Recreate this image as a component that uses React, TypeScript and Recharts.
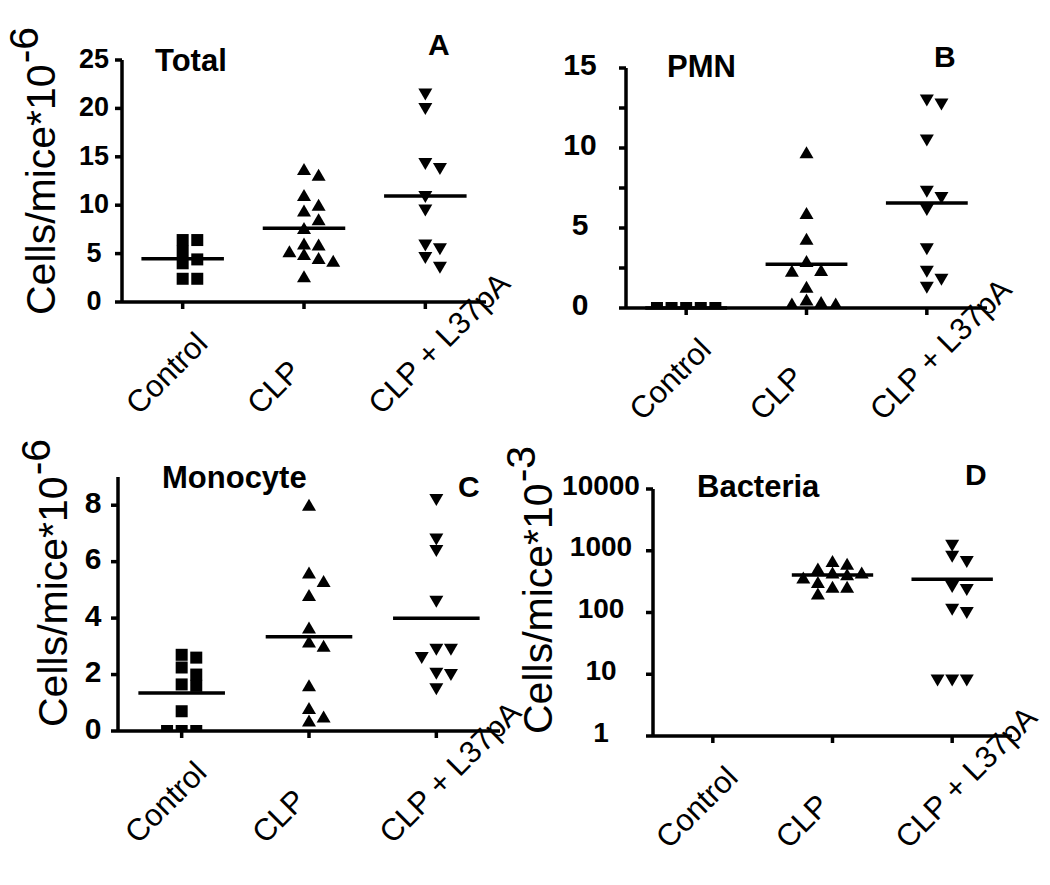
import { ScatterChart, Scatter, XAxis, YAxis, ReferenceLine } from "recharts";

const groups = ["Control", "CLP", "CLP + L37pA"];

// A: total cells (x10^6 per mouse)
const totalControl = [6.4, 6.4, 5.2, 4.4, 4.0, 2.4, 2.4];
const totalClp = [13.7, 13.1, 11.0, 10.0, 9.4, 8.5, 7.6, 6.0, 5.9, 5.2, 4.9, 4.5, 4.2, 2.6];
const totalL37 = [21.5, 20.0, 14.3, 13.8, 10.9, 9.5, 5.9, 5.5, 4.6, 3.6];

// B: PMN
const pmnControl = [0, 0, 0, 0, 0];
const pmnClp = [9.7, 5.9, 4.3, 2.9, 2.35, 2.3, 1.3, 0.5, 0.35, 0.25, 0.25];
const pmnL37 = [13.0, 12.75, 10.5, 7.3, 6.9, 6.15, 3.7, 2.3, 1.8, 1.3];

// C: monocytes
const monoControl = [2.7, 2.6, 2.25, 2.0, 1.65, 1.6, 0.7, 0, 0, 0];
const monoClp = [8.0, 5.6, 5.3, 4.8, 3.65, 3.15, 3.0, 1.6, 0.8, 0.5, 0.35];
const monoL37 = [8.2, 6.8, 6.4, 4.6, 2.9, 2.9, 2.6, 2.05, 2.0, 1.5];

// D: bacteria (x10^3, log axis)
const bactControl: number[] = [];
const bactClp = [670, 607, 504, 436, 436, 407, 362, 307, 256, 256, 199];
const bactL37 = [1230, 811, 670, 264, 235, 113, 100, 8.1, 8.1, 8.1];

const linearTicksA = [0, 5, 10, 15, 20, 25];
const linearTicksB = [0, 2.5, 5, 7.5, 10, 12.5, 15];
const labelTicksB = [0, 5, 10, 15];
const linearTicksC = [0, 2, 4, 6, 8];
const logTicksD = [1, 10, 100, 1000, 10000];

const FONT = "'Liberation Sans', Arial, Helvetica, sans-serif";
const W = 1050;
const H = 885;
const SLOT_PX = 14.6;
const MIN_GAP_PX = 10.5;

type Panel = {
  key: string;
  title: string;
  letter: string;
  values: number[][];
  domain: [number, number];
  ticks: number[];
  labelled: number[];
  log?: boolean;
  plot: { l: number; r: number; t: number; b: number };
  tickFont: number;
  tickX: number;
  tickDy: number;
  titlePos: [number, number];
  letterPos: [number, number];
  yLabel?: { x: number; y: number; exp: string };
};

const panels: Panel[] = [
  {
    key: "A",
    title: "Total",
    letter: "A",
    values: [totalControl, totalClp, totalL37],
    domain: [0, 25],
    ticks: linearTicksA,
    labelled: linearTicksA,
    plot: { l: 122, r: 486, t: 60, b: 302 },
    tickFont: 27,
    tickX: 94,
    tickDy: -1,
    titlePos: [155, 71],
    letterPos: [428, 55],
    yLabel: { x: 55, y: 315, exp: "-6" },
  },
  {
    key: "B",
    title: "PMN",
    letter: "B",
    values: [pmnControl, pmnClp, pmnL37],
    domain: [0, 15],
    ticks: linearTicksB,
    labelled: labelTicksB,
    plot: { l: 626, r: 987, t: 68, b: 308 },
    tickFont: 30,
    tickX: 580,
    tickDy: -4,
    titlePos: [667, 77],
    letterPos: [934, 67],
  },
  {
    key: "C",
    title: "Monocyte",
    letter: "C",
    values: [monoControl, monoClp, monoL37],
    domain: [0, 9],
    ticks: linearTicksC,
    labelled: linearTicksC,
    plot: { l: 118, r: 500, t: 477, b: 731 },
    tickFont: 30,
    tickX: 93,
    tickDy: -3,
    titlePos: [162, 488],
    letterPos: [458, 497],
    yLabel: { x: 67, y: 727, exp: "-6" },
  },
  {
    key: "D",
    title: "Bacteria",
    letter: "D",
    values: [bactControl, bactClp, bactL37],
    domain: [1, 10000],
    ticks: logTicksD,
    labelled: logTicksD,
    log: true,
    plot: { l: 653, r: 1012, t: 489, b: 736 },
    tickFont: 28,
    tickX: 601,
    tickDy: -4,
    titlePos: [697, 497],
    letterPos: [965, 485],
    yLabel: { x: 552, y: 734, exp: "-3" },
  },
];

function yPx(p: Panel, v: number) {
  const h = p.plot.b - p.plot.t;
  if (p.log) {
    const a = Math.log10(p.domain[0]);
    const b = Math.log10(p.domain[1]);
    return ((Math.log10(v) - a) / (b - a)) * h;
  }
  return ((v - p.domain[0]) / (p.domain[1] - p.domain[0])) * h;
}

// simple column dodge, like the prism scatter: fill centre slot first, then spread sideways
function dodge(p: Panel, values: number[], gi: number) {
  const slots = [0, 1, -1, 2, -2, 3, -3];
  const unitPx = (p.plot.r - p.plot.l) / 3;
  const placed: { s: number; py: number }[] = [];
  return [...values]
    .sort((a, b) => b - a)
    .map((v) => {
      const py = yPx(p, v);
      const s =
        slots.find((c) => placed.every((q) => q.s !== c || Math.abs(q.py - py) >= MIN_GAP_PX)) ?? 0;
      placed.push({ s, py });
      return { x: gi + 1 + (s * SLOT_PX) / unitPx, y: v };
    });
}

const mean = (arr: number[]) => arr.reduce((s, v) => s + v, 0) / arr.length;

const Square = (props: any) => (
  <rect x={props.cx - 6} y={props.cy - 6} width={12} height={12} fill="#000" />
);
const TriUp = (props: any) => (
  <path
    d={`M${props.cx},${props.cy - 6.5} L${props.cx + 7},${props.cy + 5.5} L${props.cx - 7},${props.cy + 5.5} Z`}
    fill="#000"
  />
);
const TriDown = (props: any) => (
  <path
    d={`M${props.cx - 7},${props.cy - 5.5} L${props.cx + 7},${props.cy - 5.5} L${props.cx},${props.cy + 6.5} Z`}
    fill="#000"
  />
);
const shapes = [Square, TriUp, TriDown];

function YTick(props: any) {
  const { y, payload, panel } = props;
  if (!panel.labelled.includes(payload.value)) return <g />;
  return (
    <text
      x={panel.tickX}
      y={y + panel.tickDy}
      textAnchor="middle"
      dominantBaseline="central"
      fontFamily={FONT}
      fontWeight="bold"
      fontSize={panel.tickFont}
      fill="#000"
    >
      {payload.value}
    </text>
  );
}

function XTick(props: any) {
  const { x, payload, panel } = props;
  const px = x - 44;
  const py = panel.plot.b + 114;
  return (
    <text
      transform={`translate(${px},${py}) rotate(-45)`}
      textAnchor="start"
      fontFamily={FONT}
      fontSize={31}
      fill="#000"
    >
      {groups[payload.value - 1]}
    </text>
  );
}

function PanelChart({ panel }: { panel: Panel }) {
  const yAxisW = 40;
  const xAxisH = 40;
  const margin = {
    left: panel.plot.l - yAxisW,
    right: W - panel.plot.r,
    top: panel.plot.t,
    bottom: H - panel.plot.b - xAxisH,
  };
  const axisStyle = { stroke: "#000", strokeWidth: 3.5 };
  return (
    <div style={{ position: "absolute", left: 0, top: 0 }}>
      <ScatterChart width={W} height={H} margin={margin}>
        <XAxis
          type="number"
          dataKey="x"
          domain={[0.5, 3.5]}
          ticks={[1, 2, 3]}
          allowDataOverflow
          height={xAxisH}
          axisLine={axisStyle}
          tickLine={axisStyle}
          tickSize={7}
          interval={0}
          tick={(p: any) => <XTick {...p} panel={panel} />}
        />
        <YAxis
          type="number"
          dataKey="y"
          domain={panel.domain}
          scale={panel.log ? "log" : "auto"}
          ticks={panel.ticks}
          allowDataOverflow
          width={yAxisW}
          axisLine={axisStyle}
          tickLine={axisStyle}
          tickSize={7}
          interval={0}
          tick={(p: any) => <YTick {...p} panel={panel} />}
        />
        {panel.values.map((vals, gi) =>
          vals.length ? (
            <Scatter
              key={gi}
              data={dodge(panel, vals, gi)}
              shape={shapes[gi]}
              isAnimationActive={false}
            />
          ) : null
        )}
        {panel.values.map((vals, gi) =>
          vals.length ? (
            <ReferenceLine
              key={"m" + gi}
              segment={[
                { x: gi + 1 - 0.34, y: mean(vals) },
                { x: gi + 1 + 0.34, y: mean(vals) },
              ]}
              stroke="#000"
              strokeWidth={3.5}
              ifOverflow="visible"
            />
          ) : null
        )}
        <text
          x={panel.titlePos[0]}
          y={panel.titlePos[1]}
          fontFamily={FONT}
          fontWeight="bold"
          fontSize={31}
          fill="#000"
        >
          {panel.title}
        </text>
        <text
          x={panel.letterPos[0]}
          y={panel.letterPos[1]}
          fontFamily={FONT}
          fontWeight="bold"
          fontSize={30}
          fill="#000"
        >
          {panel.letter}
        </text>
        {panel.yLabel && (
          <text
            transform={`translate(${panel.yLabel.x},${panel.yLabel.y}) rotate(-90)`}
            fontFamily={FONT}
            fontSize={41}
            fill="#000"
          >
            Cells/mice*10
            <tspan dx={1} dy={-17}>
              {panel.yLabel.exp}
            </tspan>
          </text>
        )}
      </ScatterChart>
    </div>
  );
}

export default function App() {
  return (
    <div
      style={{
        position: "absolute",
        left: 0,
        top: 0,
        width: W,
        height: H,
        background: "#fff",
        overflow: "hidden",
      }}
    >
      {panels.map((p) => (
        <PanelChart key={p.key} panel={p} />
      ))}
    </div>
  );
}
